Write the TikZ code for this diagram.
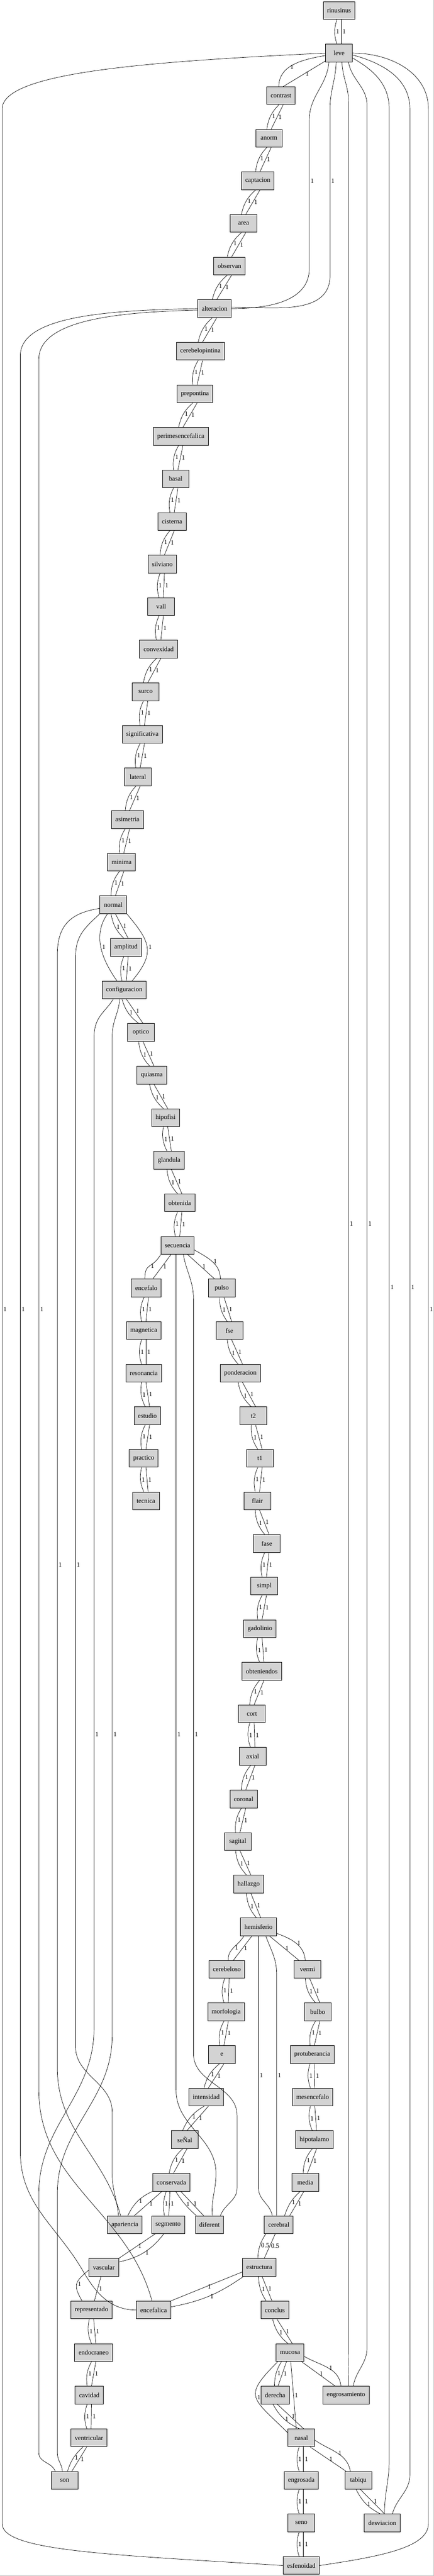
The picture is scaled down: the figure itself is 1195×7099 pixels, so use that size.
\documentclass[tikz,border=0pt]{standalone}
\usepackage{fontspec}
\setmainfont{Liberation Serif}
\usepackage{tikz}
\definecolor{boxgray}{HTML}{D3D3D3}

\begin{document}
\begin{tikzpicture}[x=0.5pt, y=-0.5pt, line width=0.5pt,
    box/.style={draw, line width=0.7pt, fill=boxgray, minimum width=36.75pt,
        minimum height=24.5pt, inner xsep=5.4pt, inner ysep=2pt,
        font=\fontsize{9}{10}\selectfont},
    lbl/.style={right, inner sep=1.5pt, font=\fontsize{9}{10}\selectfont}]

    \useasboundingbox (0,0) rectangle (1195,7099);
    \draw [gray!50] (1194,0) -- (1194,7098) -- (0,7098);

    % terms, one rank every 117.35
    \foreach \n/\x/\r in {rinusinus/934/0, leve/934/1, contrast/774/2, anorm/741/3,
        captacion/710/4, area/671/5, observan/632/6, alteracion/591/7,
        cerebelopintina/552/8, prepontina/537/9, perimesencefalica/498/10,
        basal/484/11, cisterna/474/12, silviano/447/13, vall/444/14,
        convexidad/437/15, surco/401/16, significativa/392/17, lateral/380/18,
        asimetria/351/19, minima/335/20, normal/312/21, amplitud/347/22,
        configuracion/342/23, optico/388/24, quiasma/418/25, hipofisi/456/26,
        glandula/466/27, obtenida/495/28, secuencia/489/29, encefalo/403/30,
        pulso/611/30, magnetica/396/31, fse/632/31, resonancia/396/32,
        ponderacion/662/32, estudio/406/33, t2/698/33, practico/396/34,
        t1/716/34, tecnica/402/35, flair/709/35, fase/735/36, simpl/728/37,
        gadolinio/716/38, obteniendos/721/39, cort/694/40, axial/696/41,
        coronal/671/42, sagital/655/43, hallazgo/685/44, hemisferio/712/45,
        cerebeloso/625/46, vermi/847/46, morfologia/623/47, bulbo/875/47,
        e/611/48, protuberancia/860/48, intensidad/568/49, mesencefalo/861/49,
        hipotalamo/866/50, conservada/472/51, media/841/51, apariencia/344/52,
        segmento/463/52, diferent/577/52, cerebral/768/52, vascular/286/53,
        estructura/714/53, representado/252/54, encefalica/423/54,
        conclus/757/54, endocraneo/258/55, mucosa/799/55, cavidad/246/56,
        derecha/758/56, engrosamiento/953/56, ventricular/245/57, nasal/830/57,
        son/178/58, engrosada/830/58, tabiqu/987/58, seno/830/59,
        desviacion/1053/59, esfenoidad/830/60}
        \node [box] (\n) at (\x, {29+117.35*\r}) {\n};
    \node [box] (senal) at (509, {29+117.35*50}) {seÑal};

    % double links
    \foreach \a/\b in {rinusinus/leve, contrast/anorm, anorm/captacion,
        captacion/area, area/observan, observan/alteracion,
        alteracion/cerebelopintina, cerebelopintina/prepontina,
        prepontina/perimesencefalica, perimesencefalica/basal, basal/cisterna,
        cisterna/silviano, silviano/vall, vall/convexidad, convexidad/surco,
        surco/significativa, significativa/lateral, lateral/asimetria,
        asimetria/minima, minima/normal, normal/amplitud, amplitud/configuracion,
        configuracion/optico, optico/quiasma, quiasma/hipofisi, hipofisi/glandula,
        glandula/obtenida, obtenida/secuencia, encefalo/magnetica,
        magnetica/resonancia, resonancia/estudio, estudio/practico,
        practico/tecnica, pulso/fse, fse/ponderacion, ponderacion/t2, t2/t1,
        t1/flair, flair/fase, fase/simpl, simpl/gadolinio, gadolinio/obteniendos,
        obteniendos/cort, cort/axial, axial/coronal, coronal/sagital,
        sagital/hallazgo, hallazgo/hemisferio, cerebeloso/morfologia,
        morfologia/e, e/intensidad, intensidad/senal, senal/conservada,
        vermi/bulbo, bulbo/protuberancia, protuberancia/mesencefalo,
        mesencefalo/hipotalamo, hipotalamo/media, conclus/mucosa,
        representado/endocraneo, endocraneo/cavidad, cavidad/ventricular,
        derecha/nasal, nasal/engrosada, engrosada/seno, seno/esfenoidad,
        tabiqu/desviacion} {
        \draw ([xshift=-3pt]\a.south) to[bend right=18] node[lbl]{1} ([xshift=-3pt]\b.north);
        \draw ([xshift=3pt]\a.south) -- node[lbl]{1} ([xshift=3pt]\b.north);
    }

    \draw (leve.190) to[out=190,in=90] node[lbl,pos=0.6]{1} ([xshift=-3pt]contrast.north);
    \draw (leve.210) -- node[lbl]{1} ([xshift=3pt]contrast.north);

    \draw ([xshift=-8pt]normal.south) to[out=-125,in=125] node[lbl]{1} ([xshift=-10pt]configuracion.north);
    \draw (normal.south east) to[out=-50,in=50,looseness=1.4] node[lbl]{1} ([xshift=11pt]configuracion.north);

    \draw (secuencia.south west) to[out=-120,in=90,looseness=1.5] node[lbl]{1} ([xshift=-2pt]encefalo.north);
    \draw ([xshift=-9pt]secuencia.south) -- node[lbl]{1} ([xshift=9pt]encefalo.north);
    \draw ([xshift=14pt]secuencia.south) -- node[lbl]{1} ([xshift=-10pt]pulso.north);
    \draw (secuencia.-15) to[out=-30,in=90] node[lbl]{1} ([xshift=-2pt]pulso.north);

    \draw ([xshift=-20pt]hemisferio.south) to[out=-120,in=95] node[lbl]{1} ([xshift=2pt]cerebeloso.north);
    \draw ([xshift=-9pt]hemisferio.south) -- node[lbl]{1} ([xshift=9pt]cerebeloso.north);
    \draw ([xshift=15pt]hemisferio.south) -- node[lbl]{1} ([xshift=-12pt]vermi.north);
    \draw (hemisferio.-20) to[out=-20,in=95] node[lbl]{1} ([xshift=-3pt]vermi.north);

    \draw (conservada.south west) to[bend right=20] node[lbl]{1} ([xshift=4pt]apariencia.north);
    \draw ([xshift=-13pt]conservada.south) -- node[lbl]{1} ([xshift=13pt]apariencia.north);
    \draw ([xshift=-7pt]conservada.south) to[bend right=15] node[lbl]{1} ([xshift=-5pt]segmento.north);
    \draw ([xshift=-2pt]conservada.south) -- node[lbl]{1} ([xshift=1pt]segmento.north);
    \draw ([xshift=6pt]conservada.south) to[bend right=8] node[lbl]{1} ([xshift=-18pt]diferent.north);
    \draw ([xshift=13pt]conservada.south) -- node[lbl]{1} ([xshift=-8pt]diferent.north);

    \draw ([xshift=-7pt]media.south) to[bend right=15] node[lbl]{1} ([xshift=8pt]cerebral.north);
    \draw ([xshift=-2pt]media.south) -- node[lbl]{1} ([xshift=15pt]cerebral.north);
    \draw ([xshift=-18pt]cerebral.south) to[bend right=15] node[lbl]{0.5} ([xshift=-2pt]estructura.north);
    \draw ([xshift=-5pt]cerebral.south) -- node[lbl]{0.5} ([xshift=7pt]estructura.north);

    \draw ([xshift=-18pt]segmento.south) -- node[lbl]{1} (vascular.north east);
    \draw ([xshift=-6pt]segmento.south) to[bend left=20] node[lbl]{1} (vascular.20);
    \draw (vascular.190) to[out=220,in=120,looseness=1.5] node[lbl]{1} ([xshift=-13pt]representado.north);
    \draw ([xshift=-4pt]vascular.south) -- node[lbl]{1} ([xshift=4pt]representado.north);

    \draw (estructura.195) -- node[lbl]{1} (encefalica.north east);
    \draw (estructura.210) to[bend left=12] node[lbl]{1} (encefalica.10);
    \draw ([xshift=-1pt]estructura.south) to[bend right=15] node[lbl]{1} ([xshift=-12pt]conclus.north);
    \draw ([xshift=4pt]estructura.south) -- node[lbl]{1} ([xshift=-4pt]conclus.north);

    \draw ([xshift=-12pt]mucosa.south) to[bend right=15] node[lbl]{1} ([xshift=-1pt]derecha.north);
    \draw ([xshift=-5pt]mucosa.south) -- node[lbl]{1} ([xshift=4pt]derecha.north);
    \draw ([xshift=-17pt]mucosa.south) to[out=-135,in=135,looseness=1.8] node[lbl]{1} (nasal.160);
    \draw ([xshift=1pt]mucosa.south) -- node[lbl]{1} ([xshift=-7pt]nasal.north);
    \draw ([xshift=16pt]mucosa.south) -- node[lbl]{1} ([xshift=-15pt]engrosamiento.north);
    \draw (mucosa.-15) to[out=-30,in=95] node[lbl]{1} ([xshift=-7pt]engrosamiento.north);
    \draw ([xshift=12pt]nasal.south) -- node[lbl]{1} ([xshift=-17pt]tabiqu.north);
    \draw (nasal.-10) to[out=-35,in=100] node[lbl]{1} ([xshift=-11pt]tabiqu.north);
    \draw ([xshift=-8pt]ventricular.south) to[bend right=15] node[lbl]{1} ([xshift=4pt]son.north);
    \draw ([xshift=-3pt]ventricular.south) -- node[lbl]{1} ([xshift=10pt]son.north);

    % long links
    \draw ([xshift=-14pt]leve.south) to[out=-95,in=90] (852,330) -- (852,499) node[lbl]{1}
        -- (852,740) to[out=-90,in=0] (alteracion.east);
    \draw ([xshift=-4pt]leve.south) to[out=-92,in=90] (909,300) -- (909,499) node[lbl]{1}
        -- (909,760) to[out=-90,in=0] (alteracion.5);
    \draw ([xshift=4pt]leve.south) to[out=-88,in=90] (960,280) -- (960,3373) node[lbl]{1}
        -- (960,6480) to[out=-90,in=90] ([xshift=3pt]engrosamiento.north);
    \draw ([xshift=13pt]leve.south) to[out=-80,in=90] (1011,290) -- (1011,3373) node[lbl]{1}
        -- (1011,6470) to[out=-90,in=80] ([xshift=10pt]engrosamiento.north);
    \draw (leve.-20) to[out=-30,in=90] (1072,300) -- (1072,3547) node[lbl]{1}
        -- (1072,6780) to[out=-90,in=90] ([xshift=3pt]desviacion.north);
    \draw (leve.-8) to[out=-15,in=90] (1129,300) -- (1129,3547) node[lbl]{1}
        -- (1129,6820) to[out=-90,in=75] ([xshift=14pt]desviacion.north);
    \draw (leve.east) to[out=0,in=90] (1180,300) -- (1180,3608) node[lbl]{1}
        -- (1180,6955) .. controls (1180,7020) and (1050,7045) .. (esfenoidad.east);
    \draw (leve.west) .. controls (400,170) and (6,200) .. (6,300) -- (6,3608) node[lbl]{1}
        -- (6,6955) .. controls (6,7030) and (300,7040) .. (esfenoidad.west);

    \draw (alteracion.west) .. controls (300,855) and (56,870) .. (56,980) -- (56,3608) node[lbl]{1}
        -- (56,5930) to[out=-90,in=120] (229,6259) to[out=-60,in=180] (encefalica.west);
    \draw (alteracion.185) .. controls (330,860) and (107,880) .. (107,990) -- (107,3608) node[lbl]{1}
        -- (107,5760) to[out=-90,in=105] (encefalica.100);

    \draw (normal.195) .. controls (200,2515) and (158,2545) .. (158,2630) -- (158,4312) node[lbl]{1}
        -- (158,5700) to[out=-90,in=105] (apariencia.115);
    \draw (normal.south west) .. controls (230,2560) and (208,2580) .. (208,2640) -- (208,4312) node[lbl]{1}
        -- (208,5640) to[out=-90,in=90] (309,5820) -- (309,5990) to[out=-90,in=95] (apariencia.125);

    \draw ([xshift=-15pt]configuracion.south) .. controls (290,2790) and (259,2800) .. (259,2860)
        -- (259,4780) node[lbl]{1} -- (259,5590) to[out=-90,in=90] (107,6044)
        -- (107,6760) to[out=-90,in=110] ([xshift=-13pt]son.north);
    \draw ([xshift=-6pt]configuracion.south) .. controls (325,2800) and (309,2810) .. (309,2860)
        -- (309,4780) node[lbl]{1} -- (309,5610) to[out=-90,in=90] (158,6044)
        -- (158,6760) to[out=-90,in=95] ([xshift=-3pt]son.north);

    \draw ([xshift=-2pt]secuencia.south) -- (485,4780) node[lbl]{1} -- (485,5760)
        to[out=-90,in=90] (595,5990) to[out=-90,in=95] ([xshift=4pt]diferent.north);
    \draw ([xshift=8pt]secuencia.south) to[out=-80,in=90] (533,3580) -- (533,4780) node[lbl]{1}
        -- (533,5660) to[out=-90,in=90] (653,5830) -- (653,6030) to[out=-90,in=70] ([xshift=15pt]diferent.north);

    \draw (hemisferio.south) -- (712,5719) node[lbl]{1} -- (712,6030)
        to[out=-90,in=100] ([xshift=-9pt]cerebral.north);
    \draw ([xshift=10pt]hemisferio.south) to[out=-70,in=90] (762,5440) -- (762,5719) node[lbl]{1}
        -- ([xshift=-3pt]cerebral.north);
\end{tikzpicture}
\end{document}
